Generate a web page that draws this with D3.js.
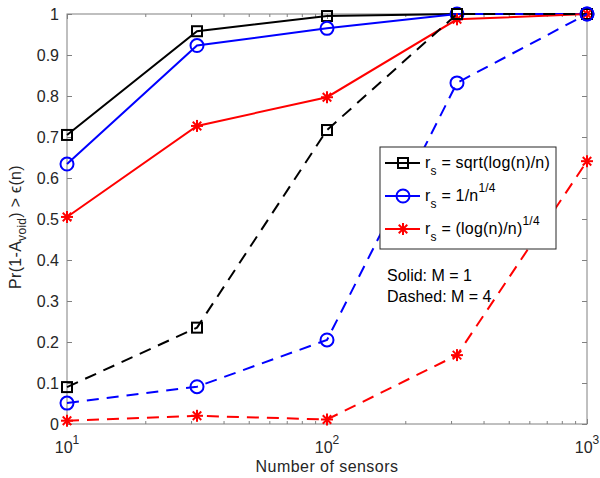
<!DOCTYPE html>
<html><head><meta charset="utf-8">
<script src="https://cdn.jsdelivr.net/npm/d3@7"></script>
<style>body{margin:0;background:#fff}svg{font-family:"Liberation Sans",Arial,sans-serif}</style>
</head><body>
<svg id="c" width="600" height="478"></svg>
<script>
const sensors = [10, 31.6228, 100, 316.228, 1000];
const sqrtSolid = [0.705, 0.958, 0.995, 1.0, 1.0];
const quarterSolid = [0.634, 0.923, 0.965, 1.0, 1.0];
const logQuarterSolid = [0.505, 0.727, 0.797, 0.987, 1.0];
const sqrtDashed = [0.090, 0.235, 0.717, 1.0, 1.0];
const quarterDashed = [0.051, 0.091, 0.205, 0.832, 1.0];
const logQuarterDashed = [0.008, 0.020, 0.011, 0.168, 0.641];
const yTicks = [0, 0.1, 0.2, 0.3, 0.4, 0.5, 0.6, 0.7, 0.8, 0.9, 1];
const yTickLabels = ["0","0.1","0.2","0.3","0.4","0.5","0.6","0.7","0.8","0.9","1"];
const xTicks = [10, 100, 1000];
const xTickExp = ["1","2","3"];

const svg = d3.select("#c");
const L = 67, R = 587, T = 14, B = 424;
const x = d3.scaleLog().domain([10, 1000]).range([L, R]);
const y = d3.scaleLinear().domain([0, 1]).range([B, T]);
const axisCol = "#808080", textCol = "#262626";
const FS = "16px";

svg.append("rect").attr("x", L).attr("y", T).attr("width", R - L).attr("height", B - T)
  .attr("fill", "none").attr("stroke", axisCol).attr("stroke-width", 1);

const minor = [];
for (let d = 10; d < 1000; d *= 10) for (let k = 2; k <= 9; k++) minor.push(d * k);

const gxb = svg.append("g").attr("transform", `translate(0,${B})`);
gxb.call(d3.axisBottom(x).tickValues(xTicks).tickSize(-5).tickFormat(""));
const gxbm = svg.append("g").attr("transform", `translate(0,${B})`);
gxbm.call(d3.axisBottom(x).tickValues(minor).tickSize(-3).tickFormat(""));
const gxt = svg.append("g").attr("transform", `translate(0,${T})`);
gxt.call(d3.axisTop(x).tickValues(xTicks).tickSize(-5).tickFormat(""));
const gxtm = svg.append("g").attr("transform", `translate(0,${T})`);
gxtm.call(d3.axisTop(x).tickValues(minor).tickSize(-3).tickFormat(""));
const gyl = svg.append("g").attr("transform", `translate(${L},0)`);
gyl.call(d3.axisLeft(y).tickValues(yTicks).tickSize(-5).tickPadding(8).tickFormat((d, i) => yTickLabels[i]));
const gyr = svg.append("g").attr("transform", `translate(${R},0)`);
gyr.call(d3.axisRight(y).tickValues(yTicks).tickSize(-5).tickFormat(""));
svg.selectAll(".domain").remove();
svg.selectAll(".tick line").attr("stroke", axisCol);
gyl.selectAll("text").attr("fill", textCol).style("font-size", FS).style("font-family", "'Liberation Sans',Arial,sans-serif");

xTicks.forEach((v, i) => {
  const t = svg.append("text").attr("x", x(v)).attr("y", B + 29).attr("text-anchor", "middle")
    .attr("fill", textCol).style("font-size", FS);
  t.append("tspan").text("10");
  t.append("tspan").attr("dy", -9).style("font-size", "12px").text(xTickExp[i]);
});

svg.append("text").attr("x", (L + R) / 2).attr("y", 472).attr("text-anchor", "middle")
  .attr("fill", textCol).style("font-size", FS).style("letter-spacing", "0.45px").text("Number of sensors");
const yl = svg.append("text").attr("transform", `translate(21,227) rotate(-90)`)
  .attr("text-anchor", "middle").attr("fill", textCol).style("font-size", FS).style("letter-spacing", "0.3px");
yl.append("tspan").text("Pr(1-A");
yl.append("tspan").attr("dy", 5).style("font-size", "12px").text("void");
yl.append("tspan").attr("dy", -5).text(") > \u03F5(n)");

const series = [
  {vals: sqrtSolid, col: "#000000", m: "sq", dash: null},
  {vals: quarterSolid, col: "#0000ff", m: "ci", dash: null},
  {vals: logQuarterSolid, col: "#ff0000", m: "st", dash: null},
  {vals: sqrtDashed, col: "#000000", m: "sq", dash: "12,8"},
  {vals: quarterDashed, col: "#0000ff", m: "ci", dash: "12,8"},
  {vals: logQuarterDashed, col: "#ff0000", m: "st", dash: "12,8"},
];
const line = d3.line().x((d, i) => x(sensors[i])).y(d => y(d));

function marker(g, type, col, cx, cy) {
  if (type === "sq") {
    g.append("rect").attr("x", cx - 5).attr("y", cy - 5).attr("width", 10).attr("height", 10)
      .attr("fill", "none").attr("stroke", col).attr("stroke-width", 2);
  } else if (type === "ci") {
    g.append("circle").attr("cx", cx).attr("cy", cy).attr("r", 6.5)
      .attr("fill", "none").attr("stroke", col).attr("stroke-width", 2);
  } else {
    const r = 6;
    for (let a = 0; a < 4; a++) {
      const ang = a * Math.PI / 4;
      g.append("line").attr("x1", cx - r * Math.cos(ang)).attr("y1", cy - r * Math.sin(ang))
        .attr("x2", cx + r * Math.cos(ang)).attr("y2", cy + r * Math.sin(ang))
        .attr("stroke", col).attr("stroke-width", 2);
    }
  }
}

const gp = svg.append("g");
series.forEach(s => {
  gp.append("path").attr("d", line(s.vals)).attr("fill", "none").attr("stroke", s.col)
    .attr("stroke-width", 2).attr("stroke-dasharray", s.dash);
  s.vals.forEach((v, i) => marker(gp, s.m, s.col, x(sensors[i]), y(v)));
});

const lg = svg.append("g");
lg.append("rect").attr("x", 380).attr("y", 147).attr("width", 176).attr("height", 102)
  .attr("fill", "#fff").attr("stroke", "#262626").attr("stroke-width", 1);
const legendItems = [
  {col: "#000000", m: "sq", main: " = sqrt(log(n)/n)", sup: null},
  {col: "#0000ff", m: "ci", main: " = 1/n", sup: "1/4"},
  {col: "#ff0000", m: "st", main: " = (log(n)/n)", sup: "1/4"},
];
legendItems.forEach((it, i) => {
  const yy = 163 + i * 33;
  lg.append("line").attr("x1", 385).attr("x2", 420).attr("y1", yy).attr("y2", yy)
    .attr("stroke", it.col).attr("stroke-width", 2);
  marker(lg, it.m, it.col, 403, yy);
  const t = lg.append("text").attr("x", 425).attr("y", yy + 5).attr("fill", "#000")
    .style("font-size", FS).style("letter-spacing", "0.2px");
  t.append("tspan").text("r");
  t.append("tspan").attr("dy", 7).style("font-size", "12px").text("s");
  t.append("tspan").attr("dy", -7).text(it.main);
  if (it.sup) t.append("tspan").attr("dy", -9).style("font-size", "12px").text(it.sup);
});

svg.append("text").attr("x", 387).attr("y", 281).attr("fill", "#000").style("font-size", FS).text("Solid: M = 1");
svg.append("text").attr("x", 387).attr("y", 302).attr("fill", "#000").style("font-size", FS).text("Dashed: M = 4");
</script>
</body></html>
